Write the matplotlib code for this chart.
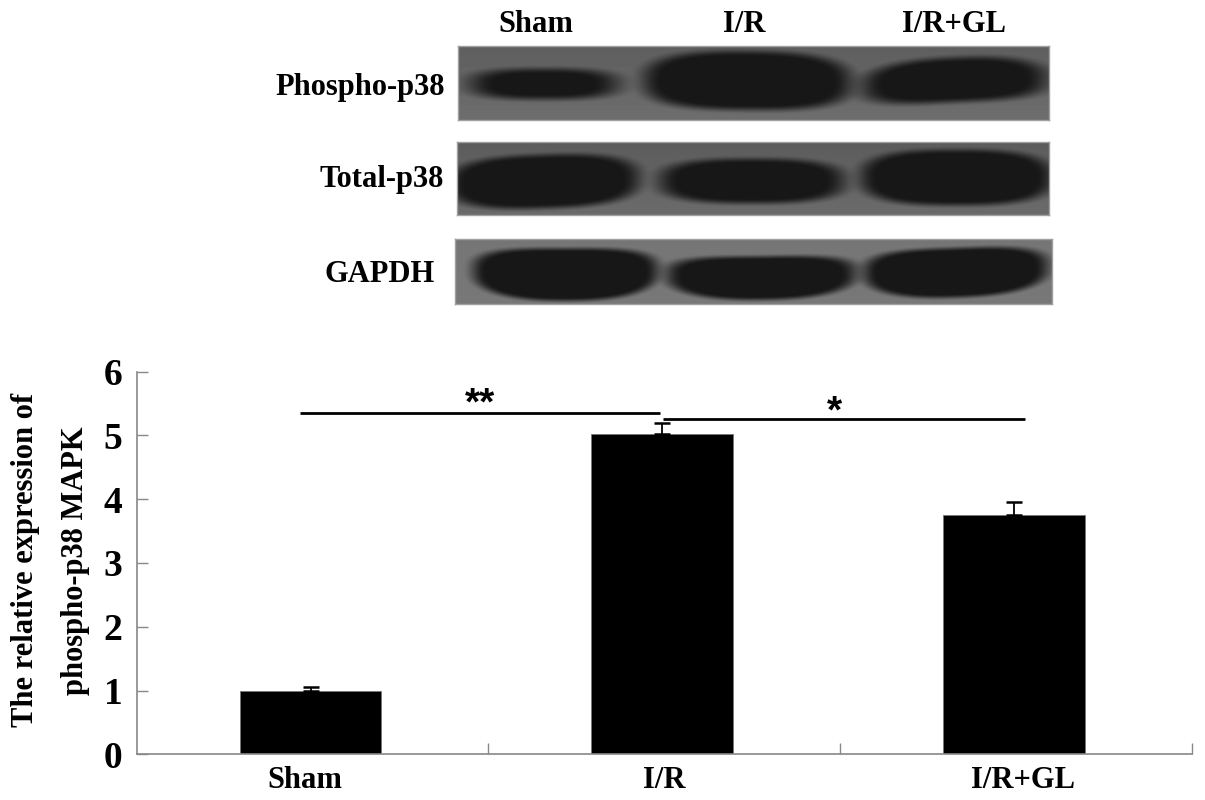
import matplotlib
matplotlib.use("Agg")
import matplotlib.pyplot as plt
import numpy as np

plt.rcParams["font.family"] = ["Liberation Serif", "DejaVu Serif"]
plt.rcParams["font.weight"] = "bold"

categories = ["Sham", "I/R", "I/R+GL"]
values = [1.0, 5.02, 3.76]
errors = [0.06, 0.17, 0.19]
y_ticks = [0, 1, 2, 3, 4, 5, 6]
blot_labels = ["Phospho-p38", "Total-p38", "GAPDH"]

W, H = 1205, 800
fig = plt.figure(figsize=(W / 100, H / 100), dpi=100, facecolor="white")


def px_axes(x0, y0, x1, y1):
    # pixel box (top-left origin) -> figure axes
    return fig.add_axes([x0 / W, 1 - y1 / H, (x1 - x0) / W, (y1 - y0) / H])


def blot(box, bands, bg, dark, shade):
    x0, y0, x1, y1 = box
    xx, yy = np.meshgrid(np.arange(x0, x1) + 0.5, np.arange(y0, y1) + 0.5)
    # background a bit darker towards the top, lighter at the bottom
    img = bg + shade * (yy - y0) / (y1 - y0)
    for bx0, bx1, by0, by1, tilt, bow, soft in bands:
        cx, cy = (bx0 + bx1) / 2, (by0 + by1) / 2
        a, b = (bx1 - bx0) / 2, (by1 - by0) / 2
        u = (xx - cx) / a
        yc = cy + tilt * u + bow * (u ** 2 - 0.4)
        r = (np.abs(u) ** 2.7 + np.abs((yy - yc) / b) ** 2.7) ** (1 / 2.7)
        # soft edge, in pixels roughly
        t = np.clip((1.0 - r) * min(a, b) / soft + 0.5, 0, 1)
        t = t * t * (3 - 2 * t)
        img = img * (1 - t) + dark * t
    ax = px_axes(x0, y0, x1, y1)
    ax.imshow(img, cmap="gray", vmin=0, vmax=1, aspect="auto", interpolation="bilinear")
    ax.set_xticks([])
    ax.set_yticks([])
    for s in ax.spines.values():
        s.set_color("#a0a0a0")
        s.set_linewidth(1.0)


blot((458, 46, 1049, 120),
     [(472, 616, 69, 99, 0, 0, 10),
      (645, 850, 52, 110, 1, 1, 10),
      (864, 1045, 59, 103, -4, 3, 10)],
     0.37, 0.09, 0.06)
blot((457, 142, 1049, 215),
     [(450, 638, 155, 208, -3, 0, 9),
      (661, 843, 159, 203, 0, 0, 9),
      (862, 1051, 150, 205, 0, 0, 9)],
     0.36, 0.09, 0.06)
blot((455, 239, 1052, 304),
     [(474, 657, 247, 299, 0, -4, 7),
      (668, 855, 255, 298, -1, -4, 7),
      (865, 1047, 247, 296, -3, -3, 7)],
     0.46, 0.09, 0.01)

# main bar panel
ax = px_axes(136.5, 371.7, 1192, 754.3)
pos = np.arange(len(categories)) + 0.4946
ax.bar(pos, values, width=0.403, color="black", edgecolor="#777777", linewidth=0.6)
ax.errorbar(pos, values, yerr=[[0] * 3, errors], fmt="none", ecolor="black",
            elinewidth=1.3, capsize=5.5, capthick=1.8)
ax.set_xlim(0, 3)
ax.set_ylim(0, 6)
ax.set_yticks(y_ticks)
ax.set_yticklabels(y_ticks, fontsize=27, fontweight="bold")
ax.set_xticks([1, 2, 3])
ax.set_xticklabels([])
ax.set_xticks([0.4775, 1.5, 2.52], minor=True)
ax.set_xticklabels(categories, minor=True, fontsize=22, fontweight="bold")
ax.tick_params(axis="x", which="major", direction="in", length=8, width=1, color="#888888")
ax.tick_params(axis="x", which="minor", length=0, pad=8.5)
ax.tick_params(axis="y", direction="in", length=8, width=1, color="#888888", pad=10)
for s in ("top", "right"):
    ax.spines[s].set_visible(False)
for s in ("left", "bottom"):
    ax.spines[s].set_color("#888888")
    ax.spines[s].set_linewidth(1.2)

# significance bars
ax.plot([0.465, 1.487], [5.35, 5.35], color="black", lw=2, solid_capstyle="butt", clip_on=False)
ax.plot([1.496, 2.524], [5.26, 5.26], color="black", lw=2, solid_capstyle="butt", clip_on=False)
ax.text(0.975, 5.33, "**", fontsize=28, ha="center", va="baseline", family="Liberation Sans", fontweight="bold")
ax.text(1.985, 5.21, "*", fontsize=28, ha="center", va="baseline", family="Liberation Sans", fontweight="bold")

# y label, two lines set separately
fig.text(26 / W, 1 - 560 / H, "The relative expression of", rotation=90, fontsize=22,
         fontweight="bold", ha="center", va="center")
fig.text(76 / W, 1 - 560.5 / H, "phospho-p38 MAPK", rotation=90, fontsize=22,
         fontweight="bold", ha="center", va="center")

# blot lane headers and row labels
for name, x in zip(categories, [535.5, 744, 954]):
    fig.text(x / W, 1 - 25 / H, name, fontsize=22, fontweight="bold", ha="center", va="center")
for name, x, y in zip(blot_labels, [445, 444, 435], [87, 180, 274]):
    fig.text(x / W, 1 - y / H, name, fontsize=22, fontweight="bold", ha="right", va="center")

fig.savefig("out.png", dpi=100)
